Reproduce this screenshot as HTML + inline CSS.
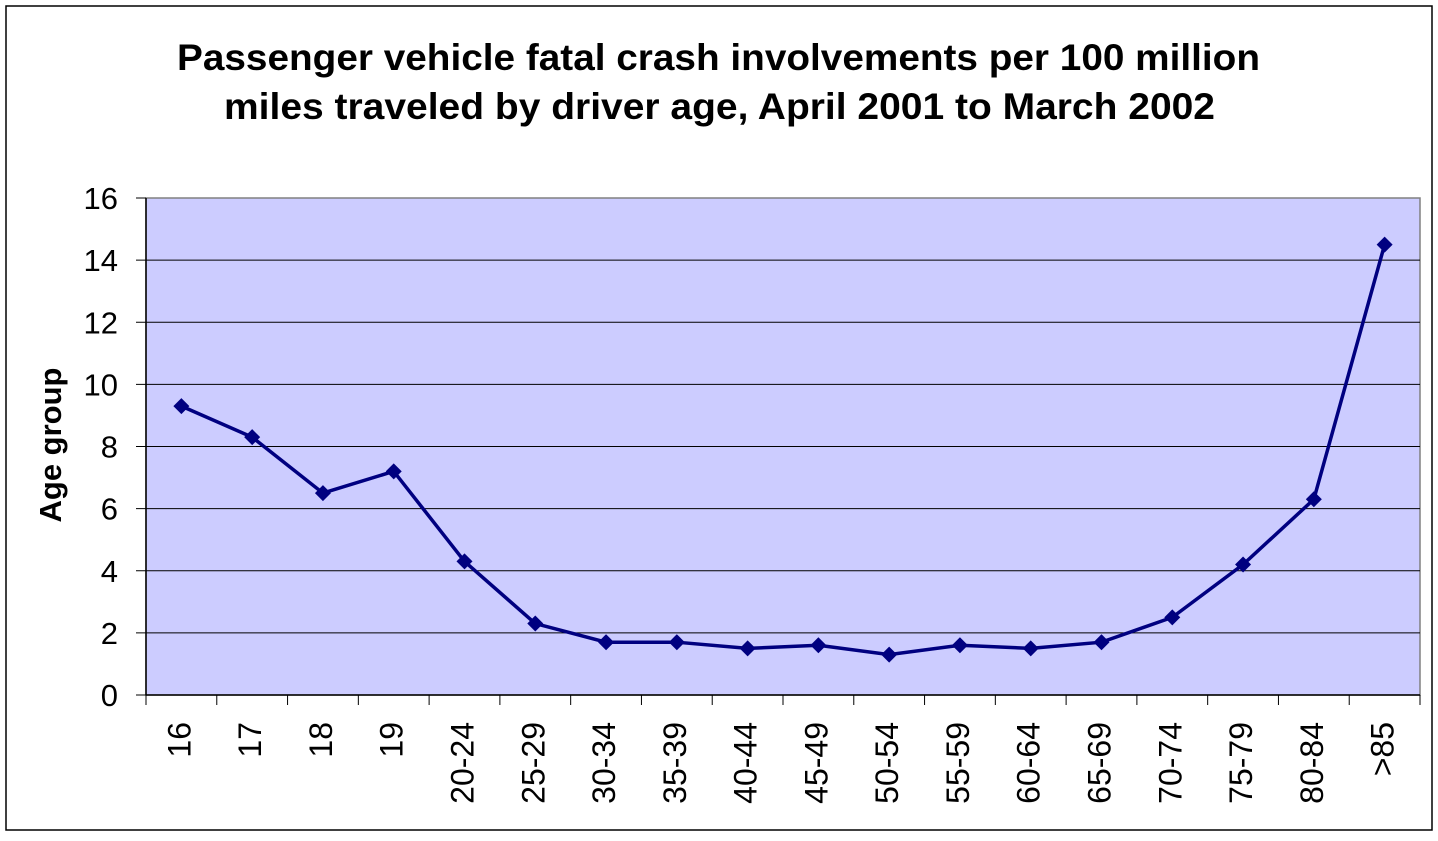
<!DOCTYPE html>
<html><head><meta charset="utf-8"><style>
html,body{margin:0;padding:0;background:#fff;}
svg text{font-family:"Liberation Sans",Arial,sans-serif;}
</style></head><body>
<svg width="1438" height="836" viewBox="0 0 1438 836">
<rect x="6" y="6" width="1426" height="824" fill="#fff" stroke="#000" stroke-width="1.5"/>
<text x="177" y="70" textLength="1083" lengthAdjust="spacingAndGlyphs" font-size="37" font-weight="bold">Passenger vehicle fatal crash involvements per 100 million</text>
<text x="224" y="119" textLength="991" lengthAdjust="spacingAndGlyphs" font-size="37" font-weight="bold">miles traveled by driver age, April 2001 to March 2002</text>
<rect x="146" y="198" width="1274" height="497" fill="#CCCCFF" stroke="#808080" stroke-width="1.5"/>
<g id="grid"></g><g id="yticks"></g><g id="xticks"></g><g id="series"></g>
<text transform="translate(61,445) rotate(-90)" text-anchor="middle" font-size="31" font-weight="bold">Age group</text>
</svg>
<script>
const categories=["16","17","18","19","20-24","25-29","30-34","35-39","40-44","45-49","50-54","55-59","60-64","65-69","70-74","75-79","80-84",">85"];
const values=[9.3,8.3,6.5,7.2,4.3,2.3,1.7,1.7,1.5,1.6,1.3,1.6,1.5,1.7,2.5,4.2,6.3,14.5];
const yTicks=[0,2,4,6,8,10,12,14,16];
const NS="http://www.w3.org/2000/svg";
const X0=146,X1=1420,Y0=695,Y1=198,YMAX=16;
const bw=(X1-X0)/categories.length;
const xs=i=>X0+bw*(i+0.5);
const ys=v=>Y0-(v/YMAX)*(Y0-Y1);
function mk(tag,attrs,parent){const e=document.createElementNS(NS,tag);for(const k in attrs)e.setAttribute(k,attrs[k]);document.getElementById(parent).appendChild(e);return e;}
yTicks.forEach(t=>{
  const y=ys(t);
  if(t>0&&t<YMAX){const g=mk('line',{x1:X0,x2:X1,y1:y,y2:y,stroke:'#000','stroke-width':1},'grid');
  
  }
  const tk=mk('line',{x1:X0-10,x2:X0,y1:y,y2:y,stroke:'#000','stroke-width':1},'yticks');
  
  
  const tx=mk('text',{x:118,y:y+11,'text-anchor':'end','font-size':31},'yticks');
  tx.textContent=t;
  
  
});
const ax=mk('line',{x1:X0,x2:X0,y1:Y1,y2:Y0,stroke:'#000','stroke-width':1.5},'yticks');


const xa=mk('line',{x1:X0,x2:X1,y1:Y0,y2:Y0,stroke:'#000','stroke-width':1.5},'xticks');


for(let i=0;i<=categories.length;i++){
  const x=X0+bw*i;
  const tk=mk('line',{x1:x,x2:x,y1:Y0,y2:Y0+10,stroke:'#000','stroke-width':1},'xticks');
  
  
}
categories.forEach((c,i)=>{
  const x=xs(i)+9;
  const t=mk('text',{transform:`translate(${x},722) rotate(-90)`,'text-anchor':'end','font-size':32},'xticks');
  t.textContent=c;
  
  
});
const pts=values.map((v,i)=>xs(i)+','+ys(v)).join(' ');
const pl=mk('polyline',{points:pts,fill:'none',stroke:'#000080','stroke-width':3.5},'series');


values.forEach((v,i)=>{
  const x=xs(i),y=ys(v);
  const m=mk('polygon',{points:`${x},${y-8} ${x+8},${y} ${x},${y+8} ${x-8},${y}`,fill:'#000080'},'series');
  
  
});
</script>
</body></html>
